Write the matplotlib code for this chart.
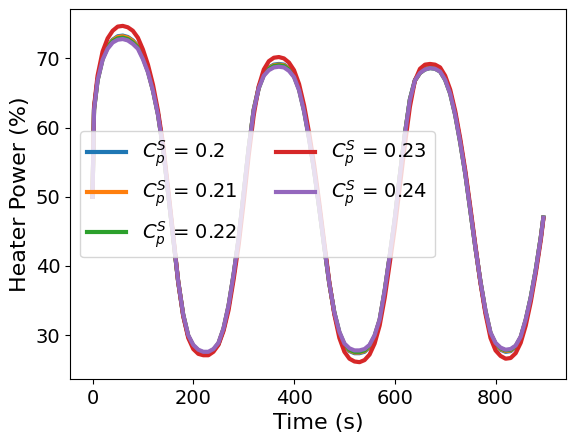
import matplotlib
matplotlib.use("Agg")
import matplotlib.pyplot as plt

# time axis (s)
time_s = [0, 3] + list(range(10, 900, 10)) + [895]

# heater power (%) for each solid heat capacity
hp_020 = [50.0, 62.8,
          67.0, 70.1, 71.8, 72.7, 73.2, 73.3, 73.1, 72.6, 71.8, 70.3,
          68.3, 65.5, 62.0, 57.1, 50.6, 44.2, 37.7, 32.8, 29.8, 28.3,
          27.6, 27.3, 27.3, 27.8, 28.7, 30.8, 34.1, 38.6, 43.8, 50.4,
          57.0, 62.6, 65.9, 67.8, 68.7, 69.1, 69.2, 69.1, 68.6, 67.6,
          65.7, 62.6, 58.6, 53.9, 48.5, 42.9, 37.5, 33.2, 30.2, 28.5,
          27.7, 27.4, 27.4, 27.6, 28.3, 29.7, 32.1, 36.3, 41.4, 46.7,
          53.0, 59.0, 64.1, 66.9, 68.0, 68.6, 68.8, 68.7, 68.3, 67.1,
          65.1, 62.0, 58.0, 53.4, 48.1, 42.7, 37.7, 33.4, 30.2, 28.6,
          27.9, 27.6, 27.7, 28.3, 29.6, 32.1, 35.4, 39.4, 44.2,
          47.0]
hp_021 = [50.0, 62.7,
          66.9, 70.0, 71.7, 72.6, 73.1, 73.2, 73.0, 72.5, 71.7, 70.2,
          68.2, 65.4, 61.9, 57.1, 50.6, 44.2, 37.7, 32.9, 29.9, 28.4,
          27.7, 27.4, 27.4, 27.9, 28.8, 30.9, 34.2, 38.7, 43.9, 50.4,
          57.0, 62.6, 65.8, 67.7, 68.6, 69.0, 69.1, 69.0, 68.5, 67.5,
          65.6, 62.5, 58.5, 53.8, 48.5, 42.9, 37.5, 33.2, 30.3, 28.6,
          27.8, 27.5, 27.5, 27.7, 28.4, 29.8, 32.2, 36.4, 41.4, 46.7,
          53.0, 59.0, 64.0, 66.8, 67.9, 68.5, 68.7, 68.6, 68.2, 67.0,
          65.0, 61.9, 57.9, 53.4, 48.1, 42.7, 37.7, 33.5, 30.3, 28.7,
          28.0, 27.7, 27.8, 28.4, 29.7, 32.2, 35.4, 39.4, 44.2,
          47.0]
hp_022 = [50.0, 62.6,
          66.8, 69.9, 71.6, 72.5, 72.9, 73.0, 72.8, 72.3, 71.6, 70.1,
          68.1, 65.4, 61.9, 57.1, 50.6, 44.2, 37.8, 33.0, 29.9, 28.5,
          27.8, 27.5, 27.5, 27.9, 28.8, 30.9, 34.2, 38.7, 43.9, 50.4,
          57.0, 62.5, 65.7, 67.6, 68.5, 68.9, 69.0, 68.9, 68.4, 67.4,
          65.5, 62.4, 58.4, 53.8, 48.4, 42.8, 37.5, 33.3, 30.4, 28.7,
          27.9, 27.6, 27.6, 27.8, 28.5, 29.9, 32.2, 36.4, 41.4, 46.7,
          53.0, 59.0, 64.0, 66.8, 67.9, 68.4, 68.6, 68.5, 68.1, 66.9,
          64.9, 61.8, 57.8, 53.3, 48.0, 42.7, 37.8, 33.5, 30.3, 28.8,
          28.1, 27.8, 27.9, 28.4, 29.7, 32.2, 35.5, 39.5, 44.2,
          47.0]
hp_023 = [50.0, 63.0,
          67.5, 71.0, 72.9, 74.0, 74.6, 74.7, 74.5, 74.0, 73.0, 71.3,
          69.1, 66.2, 62.4, 57.6, 51.2, 44.6, 37.8, 32.8, 29.6, 28.0,
          27.3, 27.1, 27.1, 27.6, 28.6, 30.6, 33.6, 38.0, 43.0, 49.2,
          56.0, 61.8, 66.0, 68.4, 69.6, 70.1, 70.2, 70.0, 69.4, 68.3,
          66.3, 63.2, 59.2, 54.6, 49.2, 43.4, 37.7, 33.0, 29.6, 27.6,
          26.6, 26.2, 26.1, 26.4, 27.2, 28.8, 31.4, 35.4, 40.4, 45.5,
          51.5, 57.5, 63.0, 66.8, 68.5, 69.1, 69.2, 69.1, 68.7, 67.5,
          65.5, 62.4, 58.4, 53.8, 48.5, 43.0, 37.6, 33.1, 29.6, 27.8,
          27.0, 26.6, 26.7, 27.4, 28.9, 31.4, 34.8, 39.0, 43.8,
          46.8]
hp_024 = [50.0, 62.5,
          66.8, 69.8, 71.4, 72.3, 72.7, 72.8, 72.6, 72.1, 71.4, 69.9,
          68.0, 65.3, 61.8, 57.0, 50.6, 44.2, 37.8, 33.0, 30.0, 28.6,
          27.9, 27.6, 27.6, 28.0, 28.9, 31.0, 34.3, 38.8, 44.0, 50.5,
          57.0, 62.5, 65.7, 67.5, 68.3, 68.7, 68.8, 68.7, 68.2, 67.3,
          65.4, 62.3, 58.3, 53.7, 48.4, 42.8, 37.5, 33.3, 30.5, 28.8,
          28.1, 27.8, 27.8, 28.0, 28.6, 30.0, 32.3, 36.5, 41.5, 46.8,
          53.0, 59.0, 64.0, 66.8, 67.9, 68.4, 68.6, 68.5, 68.1, 66.9,
          64.9, 61.8, 57.8, 53.3, 48.0, 42.7, 37.8, 33.6, 30.4, 28.9,
          28.2, 27.9, 28.0, 28.5, 29.8, 32.3, 35.5, 39.5, 44.2,
          47.0]

cps_values = ['0.2', '0.21', '0.22', '0.23', '0.24']
series = [hp_020, hp_021, hp_022, hp_023, hp_024]

fig = plt.figure(figsize=(5.76, 4.43), dpi=100)
ax = fig.add_axes([0.1215, 0.1445, 0.861, 0.835])

for cps, hp in zip(cps_values, series):
    ax.plot(time_s, hp, linewidth=3, label=r'$C_p^S$ = ' + cps)

ax.set_xlabel('Time (s)', fontsize=16)
ax.set_ylabel('Heater Power (%)', fontsize=16)
ax.tick_params(labelsize=14)
ax.legend(loc='center left', ncol=2, fontsize=14)

plt.savefig('out.png', dpi=100)
